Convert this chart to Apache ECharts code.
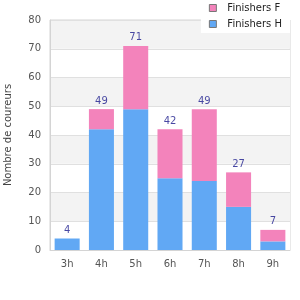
<!DOCTYPE html>
<html><head><meta charset="utf-8">
<script src="https://cdn.jsdelivr.net/npm/echarts@6/dist/echarts.min.js"></script>
<style>html,body{margin:0;padding:0;background:#fff}#c{width:300px;height:300px}</style>
</head><body><div id="c"></div>
<script>
var categories = ['3h','4h','5h','6h','7h','8h','9h'];
var finishersH = [4, 42, 49, 25, 24, 15, 3];
var finishersF = [0, 7, 22, 17, 25, 12, 4];
var totals = [4, 49, 71, 42, 49, 27, 7];
var yTicks = {min: 0, max: 80, interval: 10};

var font = 'DejaVu Sans';
var chart = echarts.init(document.getElementById('c'), null, {renderer: 'canvas'});
chart.setOption({
  animation: false,
  textStyle: {fontFamily: font},
  grid: {left: 50, right: 10, top: 20, bottom: 50, containLabel: false, outerBoundsMode: 'none',
         show: true, borderColor: '#d4d4d4', borderWidth: 1, backgroundColor: 'transparent'},
  legend: {
    data: ['Finishers F', 'Finishers H'],
    orient: 'vertical', right: 10, top: 0,
    backgroundColor: '#fff', padding: [3, 8, 4, 8],
    icon: 'rect',
    itemWidth: 7, itemHeight: 7, itemGap: 6,
    itemStyle: {borderColor: '#777', borderWidth: 1},
    textStyle: {fontFamily: font, fontSize: 10, color: '#222', padding: [0, 0, 0, 6]}
  },
  xAxis: {
    type: 'category', data: categories,
    axisLine: {lineStyle: {color: '#d4d4d4'}},
    axisTick: {show: false},
    axisLabel: {color: '#555', fontSize: 10, fontFamily: font, margin: 9}
  },
  yAxis: {
    type: 'value', min: yTicks.min, max: yTicks.max, interval: yTicks.interval,
    name: 'Nombre de coureurs', nameLocation: 'middle', nameGap: 37,
    nameTextStyle: {color: '#444', fontSize: 10, fontFamily: font},
    axisLine: {show: true, lineStyle: {color: '#d4d4d4'}},
    axisTick: {show: false},
    axisLabel: {color: '#555', fontSize: 10, fontFamily: font, margin: 9},
    splitLine: {lineStyle: {color: '#e0e0e0'}},
    splitArea: {show: true, areaStyle: {color: ['#ffffff', '#f3f3f3']}}
  },
  series: [
    {name: 'Finishers H', type: 'bar', stack: 's', data: finishersH, barWidth: '73%',
     itemStyle: {color: '#61a8f4'}},
    {name: 'Finishers F', type: 'bar', stack: 's', data: finishersF, barWidth: '73%',
     itemStyle: {color: '#f383bb'}},
    {name: 'totals', type: 'scatter', data: totals, symbolSize: 0, silent: true,
     label: {show: true, position: 'top', distance: 3, color: '#1a1a8c', fontSize: 10, fontFamily: font}}
  ]
});
</script></body></html>
